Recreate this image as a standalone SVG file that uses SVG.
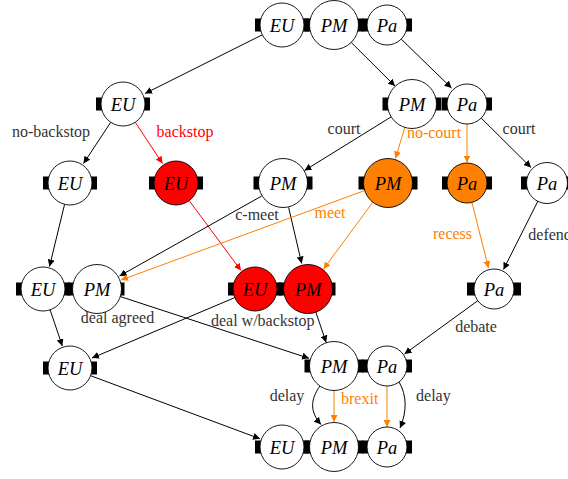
<svg xmlns="http://www.w3.org/2000/svg" width="568" height="479" viewBox="0 0 568 479">
<defs>
<style>
.n{fill:#fff;stroke:#000;stroke-width:0.9}
.red{fill:#ff0000}
.org{fill:#ff8000}
.p{fill:#000}
.t{font-family:"Liberation Serif",serif;font-style:italic;font-size:18.5px;fill:#000;text-anchor:middle}
.e{fill:none;stroke:#000;stroke-width:1}
.er{fill:none;stroke:#ff0000;stroke-width:1}
.eo{fill:none;stroke:#ff8000;stroke-width:1}
.k{stroke:#000;marker-end:url(#ab)}
.r{marker-end:url(#ar)}
.o{marker-end:url(#ao)}
.l{font-family:"Liberation Serif",serif;font-size:16px;fill:#333;text-anchor:middle}
.lr{fill:#ff0000}
.lo{fill:#ff8000}
</style>
<marker id="ab" markerUnits="userSpaceOnUse" markerWidth="8" markerHeight="7" refX="7" refY="3.5" orient="auto"><path d="M0,0 L7,3.5 L0,7 z" fill="#000"/></marker>
<marker id="ar" markerUnits="userSpaceOnUse" markerWidth="8" markerHeight="7" refX="7" refY="3.5" orient="auto"><path d="M0,0 L7,3.5 L0,7 z" fill="#ff0000"/></marker>
<marker id="ao" markerUnits="userSpaceOnUse" markerWidth="8" markerHeight="7" refX="7" refY="3.5" orient="auto"><path d="M0,0 L7,3.5 L0,7 z" fill="#ff8000"/></marker>
</defs>
<rect width="568" height="479" fill="#fff"/>

<g id="connectors">
<line class="e k" x1="262.3" y1="34.8" x2="145" y2="93.5"/>
<line class="e k" x1="351.2" y1="42.4" x2="395" y2="86"/>
<line class="e k" x1="401.2" y1="39.1" x2="451.5" y2="88"/>
<line class="e k" x1="110.7" y1="122.3" x2="83.5" y2="163.5"/>
<line class="er r" x1="135.3" y1="122.3" x2="162.5" y2="163.5"/>
<line class="e k" x1="391.6" y1="116.6" x2="304.5" y2="170.5"/>
<line class="eo o" x1="404.9" y1="127" x2="395.5" y2="158.5"/>
<line class="eo o" x1="467" y1="124" x2="467" y2="162.5"/>
<line class="e k" x1="481.2" y1="118.1" x2="531" y2="167.5"/>
<line class="e k" x1="64.6" y1="204.3" x2="49.5" y2="266.5"/>
<line class="er r" x1="189.2" y1="200.6" x2="241" y2="270.5"/>
<line class="e k" x1="261.6" y1="196.1" x2="119.5" y2="276"/>
<line class="e k" x1="288.6" y1="207.4" x2="301.7" y2="263.5"/>
<line class="eo o" x1="364.5" y1="190.6" x2="121" y2="280"/>
<line class="eo o" x1="373.6" y1="201.2" x2="323.5" y2="269"/>
<line class="eo o" x1="471.9" y1="202.4" x2="488.5" y2="268"/>
<line class="e k" x1="538" y1="200.9" x2="503.5" y2="269.5"/>
<line class="e k" x1="50.1" y1="309.8" x2="62.3" y2="346"/>
<line class="e k" x1="234.8" y1="297.6" x2="92" y2="358"/>
<line class="e k" x1="119.8" y1="296.4" x2="309" y2="358.3"/>
<line class="e k" x1="315.7" y1="311.7" x2="326.2" y2="342.5"/>
<line class="e k" x1="477.8" y1="300.7" x2="404.5" y2="354"/>
<line class="e k" x1="90.6" y1="375.7" x2="260" y2="438.8"/>
<path class="e k" d="M320,386 C310,400 310,412 321,424.5"/>
<line class="eo o" x1="334" y1="390.5" x2="334" y2="422"/>
<line class="eo o" x1="387" y1="386" x2="387" y2="427"/>
<path class="e k" d="M399,382 C407,395 407,412 400,428"/>
</g>

<g id="labels">
<text class="l" x="51" y="137">no-backstop</text>
<text class="l lr" x="185" y="137">backstop</text>
<text class="l" x="344" y="133.5">court</text>
<text class="l lo" x="434" y="138">no-court</text>
<text class="l" x="519" y="134">court</text>
<text class="l" x="257" y="220">c-meet</text>
<text class="l lo" x="330" y="217.5">meet</text>
<text class="l lo" x="452.5" y="238.5">recess</text>
<text class="l" x="528.3" y="240" style="text-anchor:start">defend</text>
<text class="l" x="117.5" y="322.5">deal agreed</text>
<text class="l" x="262.7" y="325.5">deal w/backstop</text>
<text class="l" x="476" y="332">debate</text>
<text class="l" x="287" y="401">delay</text>
<text class="l lo" x="359.7" y="404">brexit</text>
<text class="l" x="433.4" y="401">delay</text>
</g>

<!-- Top row -->
<g id="top-EU"><rect class="p" x="255" y="18.5" width="7" height="13"/><rect class="p" x="302" y="18.5" width="7" height="13"/><circle class="n" cx="282" cy="25" r="22"/><text class="t" x="282" y="31.5">EU</text></g>
<g id="top-PM"><rect class="p" x="304.5" y="18.5" width="7" height="13"/><rect class="p" x="356.5" y="18.5" width="7" height="13"/><circle class="n" cx="334" cy="25" r="24.5"/><text class="t" x="334" y="31.5">PM</text></g>
<g id="top-Pa"><rect class="p" x="362" y="18.5" width="7" height="13"/><rect class="p" x="405" y="18.5" width="7" height="13"/><circle class="n" cx="387" cy="25" r="20"/><text class="t" x="387" y="31.5">Pa</text></g>

<!-- Row 2 -->
<g id="r2-EU"><rect class="p" x="96" y="97.5" width="7" height="13"/><rect class="p" x="143" y="97.5" width="7" height="13"/><circle class="n" cx="123" cy="104" r="22"/><text class="t" x="123" y="110.5">EU</text></g>
<g id="r2-PM"><rect class="p" x="382.5" y="97.5" width="7" height="13"/><rect class="p" x="434.5" y="97.5" width="7" height="13"/><circle class="n" cx="412" cy="104" r="24.5"/><text class="t" x="412" y="110.5">PM</text></g>
<g id="r2-Pa"><rect class="p" x="442" y="97.5" width="7" height="13"/><rect class="p" x="485" y="97.5" width="7" height="13"/><circle class="n" cx="467" cy="104" r="20"/><text class="t" x="467" y="110.5">Pa</text></g>

<!-- Row 3 -->
<g id="r3-EU"><rect class="p" x="43" y="176.5" width="7" height="13"/><rect class="p" x="90" y="176.5" width="7" height="13"/><circle class="n" cx="70" cy="183" r="22"/><text class="t" x="70" y="189.5">EU</text></g>
<g id="r3-EU-red"><rect class="p" x="149" y="176.5" width="7" height="13"/><rect class="p" x="196" y="176.5" width="7" height="13"/><circle class="n red" cx="176" cy="183" r="22"/><text class="t" x="176" y="189.5">EU</text></g>
<g id="r3-PM"><rect class="p" x="253.5" y="176.5" width="7" height="13"/><rect class="p" x="305.5" y="176.5" width="7" height="13"/><circle class="n" cx="283" cy="183" r="24.5"/><text class="t" x="283" y="189.5">PM</text></g>
<g id="r3-PM-orange"><rect class="p" x="358.5" y="176.5" width="7" height="13"/><rect class="p" x="410.5" y="176.5" width="7" height="13"/><circle class="n org" cx="388" cy="183" r="24.5"/><text class="t" x="388" y="189.5">PM</text></g>
<g id="r3-Pa-orange"><rect class="p" x="442" y="176.5" width="7" height="13"/><rect class="p" x="485" y="176.5" width="7" height="13"/><circle class="n org" cx="467" cy="183" r="20"/><text class="t" x="467" y="189.5">Pa</text></g>
<g id="r3-Pa"><rect class="p" x="521" y="176.5" width="7" height="13"/><rect class="p" x="565" y="176.5" width="7" height="13"/><circle class="n" cx="547" cy="183" r="20.5"/><text class="t" x="547" y="189.5">Pa</text></g>

<!-- Row 4 -->
<g id="r4-EU"><rect class="p" x="16" y="282.5" width="7" height="13"/><rect class="p" x="63" y="282.5" width="7" height="13"/><circle class="n" cx="43" cy="289" r="22"/><text class="t" x="43" y="295.5">EU</text></g>
<g id="r4-PM"><rect class="p" x="67.5" y="282.5" width="7" height="13"/><rect class="p" x="119.5" y="282.5" width="5" height="13"/><circle class="n" cx="97" cy="289" r="24.5"/><text class="t" x="97" y="295.5">PM</text></g>
<g id="r4-EU-red"><rect class="p" x="228" y="282.5" width="7" height="13"/><rect class="p" x="275" y="282.5" width="7" height="13"/><circle class="n red" cx="255" cy="289" r="22"/><text class="t" x="255" y="295.5">EU</text></g>
<g id="r4-PM-red"><rect class="p" x="278.5" y="282.5" width="7" height="13"/><rect class="p" x="330.5" y="282.5" width="5" height="13"/><circle class="n red" cx="308" cy="289" r="24.5"/><text class="t" x="308" y="295.5">PM</text></g>
<g id="r4-Pa"><rect class="p" x="467" y="282.5" width="9" height="13"/><rect class="p" x="512" y="282.5" width="9" height="13"/><circle class="n" cx="494" cy="289" r="20"/><text class="t" x="494" y="295.5">Pa</text></g>

<!-- Row 5 -->
<g id="r5-EU"><rect class="p" x="43" y="361.5" width="7" height="13"/><rect class="p" x="90" y="361.5" width="7" height="13"/><circle class="n" cx="70" cy="368" r="22"/><text class="t" x="70" y="374.5">EU</text></g>
<g id="r5-PM"><rect class="p" x="304.5" y="359.5" width="7" height="13"/><rect class="p" x="356.5" y="359.5" width="7" height="13"/><circle class="n" cx="334" cy="366" r="24.5"/><text class="t" x="334" y="372.5">PM</text></g>
<g id="r5-Pa"><rect class="p" x="362" y="359.5" width="7" height="13"/><rect class="p" x="405" y="359.5" width="7" height="13"/><circle class="n" cx="387" cy="366" r="20"/><text class="t" x="387" y="372.5">Pa</text></g>

<!-- Bottom row -->
<g id="bot-EU"><rect class="p" x="255" y="440.5" width="7" height="13"/><rect class="p" x="302" y="440.5" width="7" height="13"/><circle class="n" cx="282" cy="447" r="22"/><text class="t" x="282" y="453.5">EU</text></g>
<g id="bot-PM"><rect class="p" x="304.5" y="440.5" width="7" height="13"/><rect class="p" x="356.5" y="440.5" width="7" height="13"/><circle class="n" cx="334" cy="447" r="24.5"/><text class="t" x="334" y="453.5">PM</text></g>
<g id="bot-Pa"><rect class="p" x="362" y="440.5" width="7" height="13"/><rect class="p" x="405" y="440.5" width="7" height="13"/><circle class="n" cx="387" cy="447" r="20"/><text class="t" x="387" y="453.5">Pa</text></g>
</svg>
